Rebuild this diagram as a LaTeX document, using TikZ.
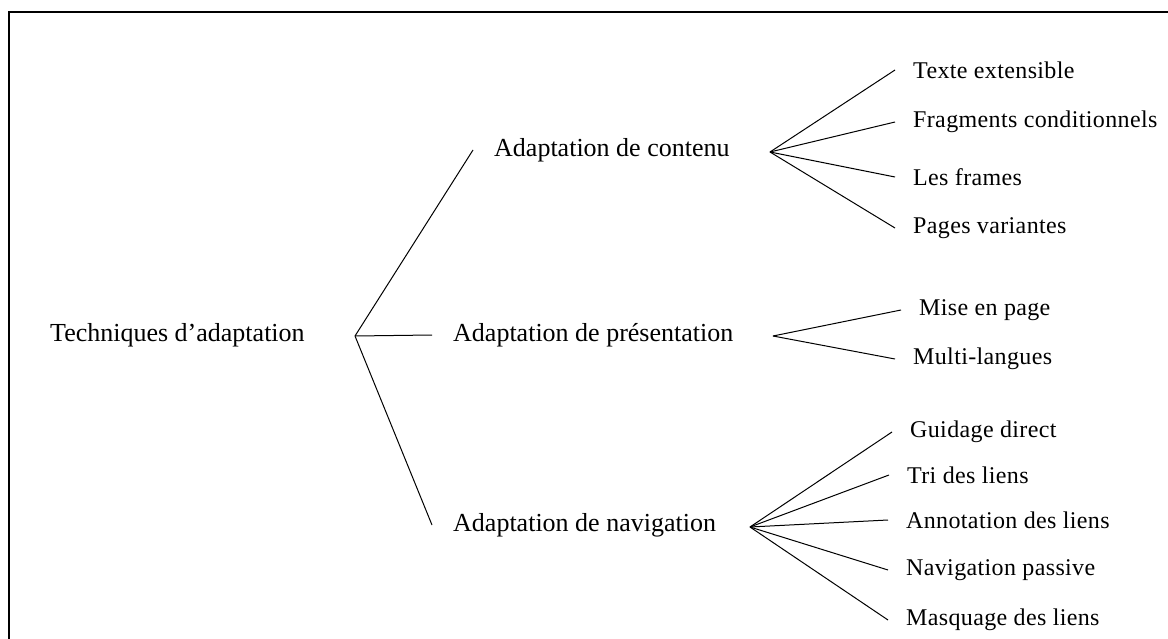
\documentclass[tikz,border=0pt]{standalone}
\usepackage{fontspec}
\setmainfont{Liberation Serif}
\usepackage{tikz}
\usetikzlibrary{positioning}

\begin{document}
\begin{tikzpicture}[x=1pt,y=-1pt,
    big/.style={anchor=west,inner xsep=21pt,inner ysep=0pt,font=\fontsize{26}{30}\selectfont},
    leaf/.style={anchor=west,inner xsep=18pt,inner ysep=0pt,font=\fontsize{24}{28}\selectfont\addfontfeature{LetterSpace=1.5}},
    branch/.style={line width=1pt}]
    \useasboundingbox (0,0) rectangle (1168,639);

    % frame (cut at right and bottom)
    \draw[line width=2pt] (9,639) -- (9,12) -- (1168,12);

    % root
    \node[anchor=west,inner sep=0pt,font=\fontsize{26}{30}\selectfont] (root) at (50,335) {Techniques d'adaptation};
    \coordinate (rfork) at (355,336);

    % second level
    \node[big] (cont) at (473,150) {Adaptation de contenu};
    \node[big] (pres) at (432,335) {Adaptation de présentation};
    \node[big] (navi) at (432,525) {Adaptation de navigation};
    \draw[branch] (rfork) -- (cont.west);
    \draw[branch] (rfork) -- (pres.west);
    \draw[branch] (rfork) -- (navi.west);

    % contenu
    \coordinate (cfork) at (770,152);
    \node[leaf] (texte) at (895,70) {Texte extensible};
    \node[leaf] (frag) at (895,122) {Fragments conditionnels};
    \node[leaf] (frames) at (895,177) {Les frames};
    \node[leaf] (pvar) at (895,228) {Pages variantes};
    \foreach \t in {texte,frag,frames,pvar}
        \draw[branch] (cfork) -- (\t.west);

    % presentation
    \coordinate (pfork) at (773,336);
    \node[leaf] (mise) at (901,310) {Mise en page};
    \node[leaf] (multi) at (895,359) {Multi-langues};
    \foreach \t in {mise,multi}
        \draw[branch] (pfork) -- (\t.west);

    % navigation
    \coordinate (nfork) at (750,527);
    \node[leaf] (guid) at (892,432) {Guidage direct};
    \node[leaf] (tri) at (889,475) {Tri des liens};
    \node[leaf] (anno) at (888,520) {Annotation des liens};
    \node[leaf] (npas) at (888,570) {Navigation passive};
    \node[leaf] (masq) at (888,620) {Masquage des liens};
    \foreach \t in {guid,tri,anno,npas,masq}
        \draw[branch] (nfork) -- (\t.west);
\end{tikzpicture}
\end{document}
